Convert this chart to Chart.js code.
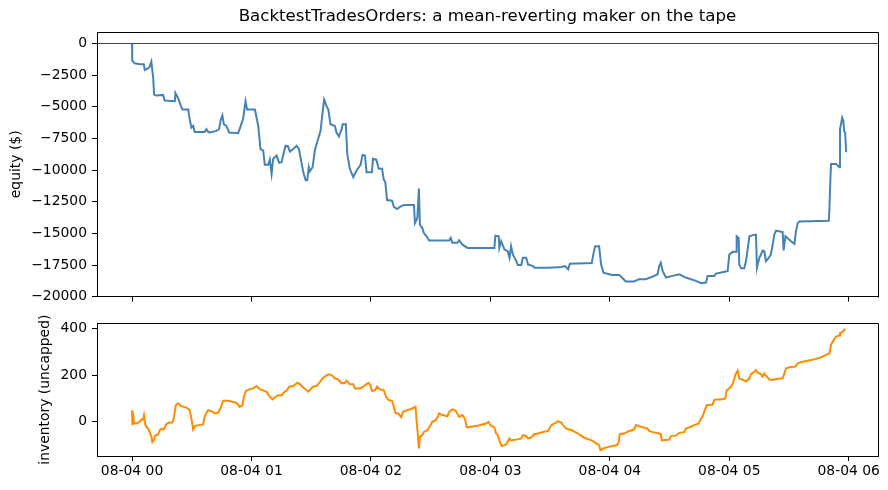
<!DOCTYPE html>
<html>
<head>
<meta charset="utf-8">
<script src="https://cdn.jsdelivr.net/npm/chart.js@4.4.1/dist/chart.umd.min.js"></script>
<style>
  html, body { margin: 0; padding: 0; background: #fff; }
  #wrap { position: relative; width: 888px; height: 490px; }
  #top { position: absolute; left: 0; top: 0; }
  #bot { position: absolute; left: 0; top: 310px; }
</style>
</head>
<body>
<div id="wrap">
  <canvas id="top" width="888" height="310"></canvas>
  <canvas id="bot" width="888" height="180"></canvas>
</div>
<script>
// minutes after 08-04 00:00 and equity in $
var equityMin = [0, 0, 0.2, 1.3, 3.9, 5.9, 6.4, 8.6, 9.7, 10.6, 11.1, 12.2, 15.6, 16.4, 21.5, 21.8, 23.1, 24.3, 25.3,
  28.2, 29.0, 29.8, 30.7, 31.5, 36.5, 37.4, 38.2, 39.1, 42.4, 43.7, 44.6, 45.4, 46.1, 47.4, 48.8, 53.3, 54.6, 55.8,
  57.0, 57.8, 61.7, 63.4, 64.5, 65.9, 66.7, 68.4, 69.2, 70.1, 70.9, 72.6, 73.9, 75.1, 75.9, 77.1, 78.4, 79.3, 81.0,
  82.6, 83.8, 84.6, 86.0, 87.2, 88.0, 88.8, 89.3, 90.7, 91.9, 93.2, 94.7, 95.5, 96.5, 97.7, 98.6, 99.7, 101.9,
  102.7, 103.9, 105.3, 105.8, 107.4, 108.1, 109.4, 111.1, 112.8, 114.8, 115.8, 117.0, 117.8, 120.5, 121.0, 122.7,
  123.9, 125.6, 126.4, 127.2, 128.1, 130.6, 131.5, 133.1, 134.8, 136.5, 141.6, 142.1, 143.3, 144.1, 144.6, 145.8,
  146.6, 148.3, 149.2, 159.3, 160.1, 160.9, 163.5, 164.3, 166.0, 168.5, 182.0, 182.5, 184.2, 184.5, 185.4, 187.1,
  188.7, 189.6, 190.4, 191.3, 193.0, 193.8, 195.5, 196.3, 198.0, 198.9, 201.4, 202.2, 209.0, 215.7, 217.4, 219.1,
  219.9, 230.9, 231.7, 232.6, 234.6, 235.6, 236.8, 241.0, 244.7, 246.4, 248.0, 252.2, 254.7, 258.1, 262.3, 264.0,
  264.8, 265.6, 266.5, 268.2, 271.5, 274.9, 278.2, 283.2, 285.8, 288.3, 289.1, 292.5, 293.3, 298.3, 299.2, 300.0,
  301.7, 303.4, 303.7, 304.7, 305.0, 305.9, 307.5, 308.4, 310.1, 312.6, 313.4, 313.9, 315.1, 316.8, 317.6, 318.4,
  319.8, 320.9, 321.8, 322.6, 323.5, 326.8, 327.3, 328.2, 331.0, 332.7, 333.5, 334.4, 335.2, 350.0, 350.3, 350.8,
  351.1, 353.6, 355.3, 355.6, 356.7, 357.3, 357.7, 358.2, 358.7];
var equityVal = [0, -520, -1350, -1560, -1640, -1640, -2080, -1900, -1430, -2680, -4040, -4110, -4060, -4500, -4560,
  -3910, -4300, -4820, -5210, -5210, -5990, -6640, -6510, -6980, -6980, -6770, -6980, -7030, -6900, -6770, -5990,
  -5680, -6380, -6510, -7030, -7080, -6510, -5940, -4560, -5210, -5210, -6510, -8330, -8460, -9580, -9580, -9170,
  -10310, -9110, -8850, -9430, -9380, -8850, -8070, -8130, -8540, -8330, -8070, -8330, -8980, -10160, -10810,
  -10810, -9770, -10100, -9770, -8390, -7680, -6900, -5730, -4430, -4950, -5210, -6380, -6510, -7030, -7340, -6770,
  -6380, -6380, -8720, -9900, -10550, -10030, -9580, -8800, -8850, -10160, -10160, -9110, -9170, -9900, -9900,
  -10730, -10940, -12370, -12420, -12890, -13070, -12890, -12760, -12760, -14190, -13800, -11460, -14320, -14580,
  -14970, -15310, -15570, -15570, -15360, -15750, -15750, -15550, -15890, -16150, -16150, -15180, -15230, -16150,
  -15620, -16280, -16410, -16930, -16020, -16670, -17190, -17500, -17500, -16930, -16930, -17450, -17580, -17710,
  -17710, -17660, -17580, -17840, -17400, -17340, -16670, -16020, -16020, -17450, -18100, -18280, -18280, -18540,
  -18800, -18800, -18620, -18620, -18360, -18230, -17580, -17320, -17970, -18490, -18360, -18230, -18490, -18750,
  -18930, -18880, -18360, -18360, -18180, -18020, -17970, -16670, -16460, -16460, -15230, -15360, -17450, -17760,
  -17760, -17190, -15230, -15100, -15100, -17710, -16930, -16350, -16410, -17190, -16930, -16670, -15890, -15100,
  -14790, -14900, -16350, -15230, -15620, -15830, -14840, -14190, -14060, -14010, -13020, -10680, -9510, -9510,
  -9770, -6770, -5860, -6120, -6900, -7030, -8590];

// minutes after 08-04 00:00 and inventory (uncapped)
var invMin = [0, 0.2, 0.5, 1.0, 2.2, 3.9, 4.7, 5.5, 6.0, 6.7, 8.0, 8.9, 9.7, 10.2, 10.9, 11.4, 13.1, 13.9, 14.7, 15.9,
  17.3, 18.6, 20.3, 21.0, 22.0, 23.1, 24.8, 27.3, 29.0, 29.8, 30.7, 31.5, 33.2, 35.7, 36.5, 38.2, 39.9, 41.6, 43.2,
  44.4, 45.8, 48.3, 52.5, 54.1, 55.5, 56.1, 57.1, 58.8, 60.8, 62.5, 64.2, 67.5, 69.2, 70.6, 71.7, 73.4, 75.1, 76.8,
  77.6, 78.9, 81.0, 83.0, 84.3, 86.0, 88.5, 89.3, 90.7, 92.7, 94.4, 96.0, 98.5, 100.2, 101.9, 103.6, 105.3, 106.9,
  107.8, 109.4, 111.1, 112.0, 114.5, 116.1, 117.1, 118.8, 119.7, 120.5, 122.2, 123.0, 124.4, 126.4, 127.8, 128.9,
  130.6, 131.5, 132.3, 134.0, 135.2, 136.2, 138.2, 139.9, 142.4, 142.9, 143.6, 144.1, 144.6, 145.8, 146.6, 148.3,
  150.0, 150.8, 152.5, 153.7, 154.2, 155.9, 158.4, 159.3, 160.9, 162.6, 164.3, 166.0, 167.2, 168.2, 170.2, 173.6,
  177.8, 179.1, 180.0, 182.0, 182.9, 183.7, 184.5, 185.7, 187.9, 189.6, 190.4, 193.0, 195.5, 196.3, 198.0, 198.9,
  200.5, 201.9, 203.9, 206.4, 209.0, 210.7, 212.3, 214.0, 215.7, 217.1, 218.2, 220.8, 224.1, 225.8, 227.5, 230.9,
  233.4, 234.6, 235.3, 236.8, 239.3, 241.0, 243.4, 244.4, 245.0, 247.2, 249.7, 252.2, 253.1, 254.7, 258.9, 259.8,
  261.5, 264.8, 265.6, 266.1, 269.8, 270.7, 273.2, 274.9, 277.4, 278.2, 280.7, 282.4, 284.6, 285.8, 286.6, 288.3,
  288.6, 291.6, 292.5, 293.3, 295.8, 298.0, 298.7, 299.7, 300.8, 301.7, 303.0, 304.2, 305.0, 306.7, 308.4, 310.1,
  310.9, 312.6, 313.4, 314.2, 315.9, 316.8, 317.6, 318.4, 320.1, 321.8, 323.5, 326.8, 327.7, 328.5, 330.2, 333.2,
  334.4, 336.9, 341.1, 343.6, 346.1, 348.6, 350.3, 351.1, 352.0, 353.6, 355.3, 355.6, 356.7, 357.3, 358.3];
var invVal = [50, -14, 36, -7, -7, 0, 10, 10, 29, -14, -29, -43, -64, -86, -79, -61, -53, -36, -29, -33, -10, -3, -3,
  17, 71, 79, 67, 61, 50, 14, -33, -19, -14, -11, 24, 50, 46, 36, 39, 57, 90, 90, 81, 64, 71, 104, 131, 139, 143,
  153, 140, 129, 107, 96, 104, 114, 114, 129, 133, 150, 153, 167, 161, 147, 129, 136, 150, 153, 171, 189, 203, 200,
  186, 181, 164, 167, 176, 161, 161, 143, 143, 150, 157, 167, 157, 133, 136, 150, 139, 136, 104, 93, 90, 64, 39, 33,
  19, 43, 50, 54, 64, 7, -57, -114, -64, -57, -43, -36, -14, 0, 7, 24, 36, 29, 24, 43, 53, 47, 21, 29, 14, -24, -21,
  -17, -7, 0, -14, -24, -50, -57, -79, -104, -97, -71, -79, -76, -71, -57, -61, -71, -67, -53, -50, -43, -39, -14,
  -7, 3, -4, -21, -29, -36, -50, -61, -69, -79, -93, -100, -121, -114, -107, -104, -100, -90, -53, -50, -39, -33,
  -14, -19, -29, -39, -44, -50, -53, -79, -76, -61, -59, -47, -44, -29, -21, -14, -7, 14, 24, 64, 71, 74, 93, 96,
  96, 100, 136, 141, 150, 161, 200, 219, 186, 179, 173, 186, 204, 214, 221, 210, 204, 193, 207, 197, 181, 179, 183,
  186, 207, 229, 233, 236, 250, 257, 264, 269, 276, 286, 293, 329, 343, 364, 369, 379, 383, 390, 396];

var hourTicks = [0, 60, 120, 180, 240, 300, 360];
var hourLabels = ['08-04 00', '08-04 01', '08-04 02', '08-04 03', '08-04 04', '08-04 05', '08-04 06'];
var equityTicks = [-20000, -17500, -15000, -12500, -10000, -7500, -5000, -2500, 0];
var invTicks = [0, 200, 400];

var FONT = 'DejaVu Sans';

function pts(xs, ys) {
  var out = [];
  for (var i = 0; i < xs.length; i++) out.push({x: xs[i], y: ys[i]});
  return out;
}
function fmt(v) {
  return v < 0 ? '\u2212' + Math.abs(v) : String(v);
}

// draws the top and right spines so each panel is a closed box
var boxPlugin = {
  id: 'box',
  afterDraw: function(chart) {
    var a = chart.chartArea, ctx = chart.ctx;
    ctx.save();
    ctx.strokeStyle = '#000';
    ctx.lineWidth = 1;
    ctx.beginPath();
    ctx.moveTo(Math.round(a.left) + 0.5, Math.round(a.top) + 0.5);
    ctx.lineTo(Math.round(a.right) + 0.5, Math.round(a.top) + 0.5);
    ctx.lineTo(Math.round(a.right) + 0.5, Math.round(a.bottom) + 0.5);
    ctx.stroke();
    ctx.restore();
  }
};

function xAxis(showLabels, h) {
  return {
    type: 'linear',
    min: -17.6,
    max: 374.7,
    afterBuildTicks: function(s) { s.ticks = hourTicks.map(function(v) { return {value: v}; }); },
    afterFit: function(s) { s.height = h; },
    grid: {drawOnChartArea: false, tickLength: 5, tickColor: '#000', tickWidth: 1},
    border: {color: '#000', width: 1},
    ticks: {
      display: showLabels,
      color: '#000',
      padding: 2,
      maxRotation: 0,
      font: {family: FONT, size: 13.9},
      callback: function(v) { return hourLabels[hourTicks.indexOf(v)]; }
    }
  };
}

function yAxis(min, max, tickList, title, titlePad, zeroLine) {
  return {
    type: 'linear',
    min: min,
    max: max,
    afterBuildTicks: function(s) { s.ticks = tickList.map(function(v) { return {value: v}; }); },
    afterFit: function(s) { s.width = 97; },
    grid: {
      drawOnChartArea: zeroLine,
      color: function(c) { return (zeroLine && c.tick && c.tick.value === 0) ? '#444' : 'rgba(0,0,0,0)'; },
      lineWidth: 1,
      tickLength: 5, tickColor: '#000', tickWidth: 1
    },
    border: {color: '#000', width: 1},
    ticks: {
      color: '#000',
      padding: 5,
      font: {family: FONT, size: 13.9},
      callback: function(v) { return fmt(v); }
    },
    title: {
      display: true,
      text: title,
      color: '#000',
      font: {family: FONT, size: 13.9},
      padding: {top: titlePad, bottom: 0}
    }
  };
}

new Chart(document.getElementById('top'), {
  type: 'line',
  data: {
    datasets: [{
      data: pts(equityMin, equityVal),
      borderColor: '#4682b4',
      borderWidth: 2,
      pointRadius: 0,
      tension: 0
    }]
  },
  options: {
    responsive: false,
    animation: false,
    parsing: false,
    layout: {padding: {left: 0, right: 10, top: 0, bottom: 0}},
    plugins: {
      legend: {display: false},
      tooltip: {enabled: false},
      title: {
        display: true,
        fullSize: false,
        text: 'BacktestTradesOrders: a mean-reverting maker on the tape',
        color: '#000',
        font: {family: FONT, size: 16.67, weight: 'normal'},
        padding: {top: 7, bottom: 5}
      }
    },
    scales: {
      x: xAxis(false, 10),
      y: yAxis(-20000, 912, equityTicks, 'equity ($)', 8, true)
    }
  },
  plugins: [boxPlugin]
});

new Chart(document.getElementById('bot'), {
  type: 'line',
  data: {
    datasets: [{
      data: pts(invMin, invVal),
      borderColor: '#ff8c00',
      borderWidth: 2,
      pointRadius: 0,
      tension: 0
    }]
  },
  options: {
    responsive: false,
    animation: false,
    parsing: false,
    layout: {padding: {left: 0, right: 10, top: 13, bottom: 0}},
    plugins: {
      legend: {display: false},
      tooltip: {enabled: false}
    },
    scales: {
      x: xAxis(true, 34),
      y: yAxis(-146, 421, invTicks, 'inventory (uncapped)', 37, false)
    }
  },
  plugins: [boxPlugin]
});
</script>
</body>
</html>
